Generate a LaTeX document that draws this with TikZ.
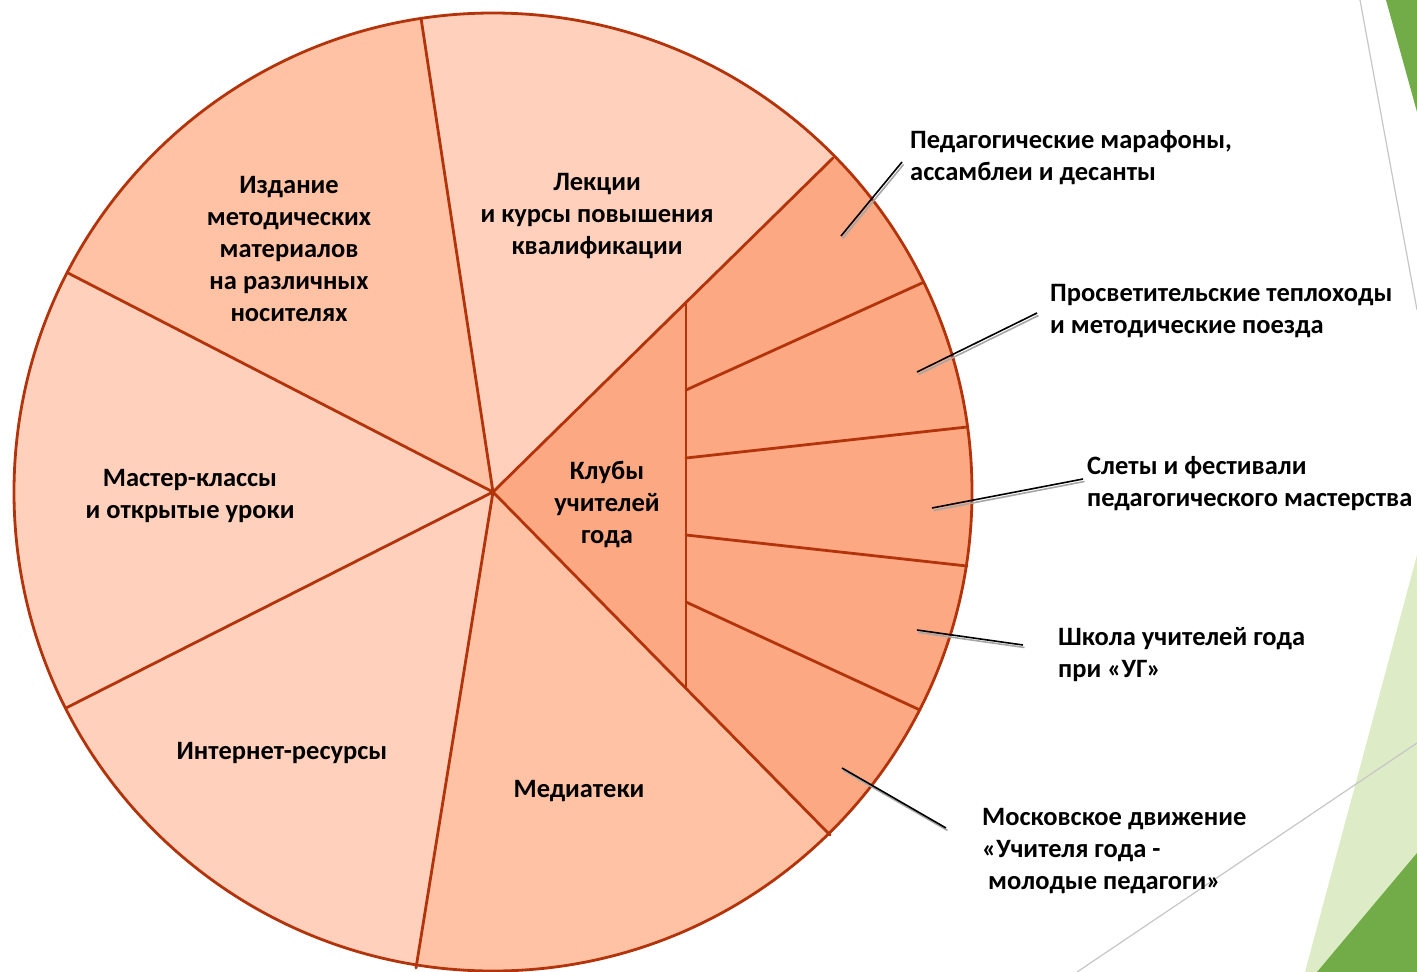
\documentclass[tikz,border=0pt]{standalone}
\usepackage{fontspec}
\setmainfont{Carlito}
\usetikzlibrary{calc}
\definecolor{lightpie}{HTML}{FFD0BC}
\definecolor{midpie}{HTML}{FFC2A4}
\definecolor{darkpie}{HTML}{FCA983}
\definecolor{edgered}{HTML}{B3330A}
\definecolor{dgreen}{HTML}{71AC48}
\definecolor{lgreen}{HTML}{DDEBC6}
\definecolor{thingray}{HTML}{C6C6C6}
\begin{document}
\begin{tikzpicture}[x=1pt,y=-1pt,
  pieline/.style={draw=edgered,line width=2.8pt,line join=round,line cap=round},
  lbl/.style={font=\fontsize{26.5}{32}\selectfont\bfseries,align=center,inner sep=0pt,text=black},
  rlbl/.style={font=\fontsize{26.5}{32}\selectfont\bfseries,align=left,inner sep=0pt,anchor=west,text=black},
  callout/.style={draw=black,line width=1.6pt},
  callshadow/.style={draw=gray!70,line width=1.6pt}]
\useasboundingbox (0,0) rectangle (1417,972);
% background decorations
\fill[lgreen] (1417,555) -- (1305,972) -- (1417,972) -- cycle;
\fill[dgreen] (1417,853) -- (1417,972) -- (1317,972) -- cycle;
\fill[dgreen] (1386,0) -- (1417,0) -- (1417,112) -- cycle;
\draw[thingray,line width=1.2pt] (1360,0) -- (1417,310);
\draw[thingray,line width=1.2pt] (1417,743) -- (1077,972);
% pie geometry
\coordinate (c) at (493,492);
\coordinate (p1) at (421,18);
\coordinate (p2) at (833,158);
\coordinate (p3) at (68,273);
\coordinate (p4) at (66,708);
\coordinate (p5) at (416,968);
\coordinate (p6) at (830,835);
\coordinate (q2) at (686,302.4);
\coordinate (q6) at (686,688.4);
\coordinate (s1) at (686,390); \coordinate (t1) at (922,283);
\coordinate (s2) at (686,458); \coordinate (t2) at (967,427);
\coordinate (s3) at (686,535); \coordinate (t3) at (967,566);
\coordinate (s4) at (686,602); \coordinate (t4) at (920,710);
\fill[lightpie] (c) circle (479);
\begin{scope}
  \clip (c) circle (479);
  \fill[midpie] (c) -- ($(c)!1.6!(p1)$) -- ($(c)!1.6!(p3)$) -- cycle;
  \fill[midpie] (c) -- ($(c)!1.6!(p5)$) -- ($(c)!1.6!(p6)$) -- cycle;
  \fill[darkpie] (c) -- ($(c)!1.6!(p2)$) -- ($(c)!1.6!(p6)$) -- cycle;
\end{scope}
\draw[pieline] (c) -- (p1);
\draw[pieline] (c) -- (p2);
\draw[pieline] (c) -- (p3);
\draw[pieline] (c) -- (p4);
\draw[pieline] (c) -- (p5);
\draw[pieline] (c) -- (p6);
\draw[pieline] (q2) -- (q6);
\draw[pieline] (s1) -- (t1);
\draw[pieline] (s2) -- (t2);
\draw[pieline] (s3) -- (t3);
\draw[pieline] (s4) -- (t4);
\draw[pieline] (c) circle (479);
% labels inside
\node[lbl] (izd) at (289,249) {Издание\\методических\\материалов\\на различных\\носителях};
\node[lbl] (lek) at (597,216) {Лекции\\и курсы повышения\\квалификации};
\node[lbl] (mast) at (190,496) {Мастер-классы\\и открытые уроки};
\node[lbl] (inet) at (282,753) {Интернет-ресурсы};
\node[lbl] (med) at (579,791) {Медиатеки};
\node[lbl] (klub) at (607,504) {Клубы\\учителей\\года};
% outside labels
\node[rlbl] (r1) at (910,158) {Педагогические марафоны,\\ассамблеи и десанты};
\node[rlbl] (r2) at (1050,311) {Просветительские теплоходы\\и методические поезда};
\node[rlbl] (r3) at (1087,484) {Слеты и фестивали\\педагогического мастерства};
\node[rlbl] (r4) at (1058,655) {Школа учителей года\\при «УГ»};
\node[rlbl] (r5) at (982,851) {Московское движение\\«Учителя года -\\\hspace*{6pt}молодые педагоги»};
% callouts
\coordinate (a1) at (841,236); \coordinate (b1) at (902,162);
\coordinate (a2) at (917,372); \coordinate (b2) at (1037,313);
\coordinate (a3) at (932,508); \coordinate (b3) at (1083,479);
\coordinate (a4) at (917,630); \coordinate (b4) at (1023,645);
\coordinate (a5) at (842,768); \coordinate (b5) at (946,828);
\foreach \i in {1,...,5}{
  \draw[callshadow] ([shift={(1.5,2.5)}]a\i) -- ([shift={(1.5,2.5)}]b\i);
  \draw[callout] (a\i) -- (b\i);
}
\end{tikzpicture}
\end{document}
